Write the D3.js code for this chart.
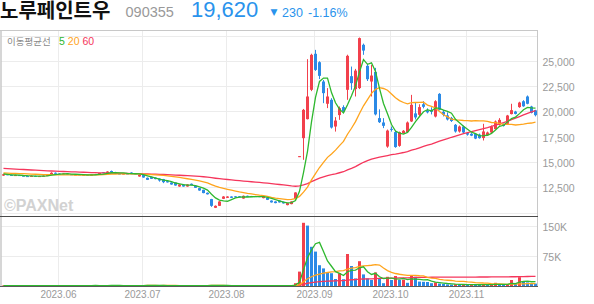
<!DOCTYPE html>
<html>
<head>
<meta charset="utf-8">
<script src="https://cdn.jsdelivr.net/npm/d3@7"></script>
<style>
  body { margin: 0; background: #fff; }
  svg { display: block; font-family: "Liberation Sans", Arial, sans-serif; }
</style>
</head>
<body>
<div id="chart"></div>
<script>
// daily candles, 2023-05-11 .. 2023-11-24 (trading days)
var opens = [
  13650,13780,13720,13660,13700,13640,13600,13580,13620,13560,
  13600,13640,13700,13930,13850,13800,13850,13780,13720,13760,
  13700,13740,13690,13730,13800,13980,13900,14100,14000,13850,
  13800,13850,13950,13880,13560,13730,13430,13520,13450,13350,
  13300,13100,12965,12965,12570,12770,12570,12840,12640,12410,
  12240,11950,11325,10465,10660,11354,11450,11580,11600,11600,
  11380,11650,11620,11620,11620,11420,11450,11180,11090,11180,
  11060,10730,10830,11330,15500,17350,19230,22130,25690,24860,
  22950,20750,21140,18500,19630,20420,22130,23480,22200,22300,
  26580,24500,22950,23900,19330,18900,16520,18270,17950,16590,
  17850,17950,19000,19800,19660,20700,20100,20150,19490,21730,
  19950,19600,19350,18670,18010,18500,17850,17780,17780,17700,
  17360,17650,17910,18240,18670,18750,18770,19730,19980,20420,
  21000,21470,20480,20100
];
var highs = [
  13820,13800,13750,13730,13720,13680,13640,13650,13640,13620,
  13660,13720,13980,13960,13880,13870,13870,13800,13780,13780,
  13760,13760,13750,13820,13920,14000,14080,14150,14020,13880,
  13870,13880,13980,13900,13760,13750,13460,13550,13480,13380,
  13320,13130,12990,12980,12800,12790,12790,12870,12660,12430,
  12260,11980,11350,10700,11120,11620,11610,11600,11620,11620,
  11680,11670,11640,11640,11640,11640,11470,11200,11110,11200,
  11080,10950,11110,12000,15570,20240,25160,25700,26080,24950,
  23100,22300,21300,19430,20480,20600,25600,24430,24200,27300,
  26700,24700,24600,24300,20200,19330,18200,18500,18100,18000,
  18150,19000,21630,20900,20700,21000,20300,20400,21100,21800,
  20150,19900,19450,18750,18600,18600,17950,17850,17850,17800,
  18770,18000,18600,19100,19330,18800,19650,20750,20050,20950,
  21100,21570,20550,20150
];
var lows = [
  13620,13680,13640,13640,13620,13580,13560,13560,13540,13540,
  13580,13620,13680,13830,13780,13780,13760,13700,13700,13680,
  13680,13670,13670,13710,13780,13880,13880,13980,13830,13780,
  13780,13780,13860,13800,13540,13440,13210,13310,13280,13050,
  12900,12960,12750,12650,12550,12550,12550,12690,12420,12150,
  11900,11780,10560,10440,10640,11330,11430,11430,11480,11500,
  11360,11530,11540,11540,11520,11400,11230,10980,10910,10980,
  10880,10710,10810,11260,15480,15210,19200,22000,24000,23190,
  20810,20320,18300,18000,19160,19900,21140,22130,21470,22200,
  25590,23000,21470,19600,18850,18340,16400,18000,16400,16500,
  17800,17900,18950,19200,19500,20300,19800,19700,19400,20100,
  19500,19100,18950,17900,17900,17850,17600,17550,17250,17300,
  17120,17600,17850,18200,18600,18500,18700,19700,19700,20350,
  20450,20700,19800,19500
];
var closes = [
  13780,13700,13660,13700,13640,13600,13580,13620,13560,13600,
  13640,13700,13930,13850,13800,13850,13780,13720,13760,13700,
  13740,13690,13730,13800,13900,13900,14050,14000,13850,13800,
  13850,13800,13880,13820,13730,13460,13230,13330,13300,13160,
  13000,12980,12770,12670,12770,12570,12770,12710,12440,12175,
  11920,11800,10660,10660,11090,11580,11580,11450,11500,11520,
  11650,11550,11560,11560,11540,11620,11250,11000,10930,11000,
  10900,10930,11090,11980,15570,20150,21470,25590,24100,23510,
  21800,21470,18400,19090,20320,19980,25490,22790,24030,27240,
  26010,23180,23540,19700,18930,18570,18100,18170,16470,17950,
  18080,18900,20650,19400,20420,20450,19900,19950,21000,20150,
  19660,19200,19050,18010,18500,17910,17700,17600,17310,17350,
  18010,17910,18500,19000,19160,18550,19590,20120,19750,20870,
  20500,20750,19850,19620
];
// volume, thousands of shares
var volumes = [
  1.2,0.8,0.9,0.7,1.0,0.8,0.6,0.9,0.7,0.8,
  1.1,0.9,1.6,1.0,0.8,0.7,0.9,0.8,0.7,2.5,
  1.0,0.8,0.7,1.2,1.5,1.1,1.4,1.8,1.0,0.8,
  0.9,0.7,1.2,0.9,1.3,1.5,2.5,1.2,0.9,1.1,
  1.4,0.9,1.2,1.0,0.8,0.9,0.8,0.7,1.0,1.3,
  1.6,1.2,2.2,1.5,1.3,1.0,0.8,0.7,0.8,0.7,
  0.9,0.7,0.6,0.7,0.6,0.8,1.0,0.9,0.8,0.9,
  1.0,0.9,1.1,7,36,158,151,98,86,52,
  44,33,32,17.5,32,17,80,50,19,62,
  29,19,15,34,19,7,23,15,25,15,
  16,8,25,23,11,10.5,10,7,9,6,
  5,4,3.5,4.5,3,3.5,2.5,4,3,2.5,
  4,3,3.5,8,3,2.5,4,15,5,22,
  10,9,7,6
];
// history before the window, only used for the moving averages
var priorCloses = [
  15150,15100,15050,15100,15000,14950,15000,14900,14950,14850,
  14900,14800,14850,14750,14800,14700,14750,14650,14700,14600,
  14650,14550,14600,14500,14550,14450,14500,14400,14450,14350,
  14400,14300,14350,14250,14200,
  14050,14000,13950,14000,13900,13950,14000,13950,13900,13950,
  14000,13950,13900,13850,13900,13950,14000,13950,13900,13950,
  13900,13850,13800,13700
];
var priorVolumes = [
  1.0,0.9,1.2,0.8,1.1,0.9,1.0,1.3,0.8,0.9,
  1.1,1.0,0.7,0.9,1.2,1.0,0.8,1.1,0.9,1.0,
  1.2,0.9,0.8,1.0,1.1,0.9,1.3,1.0,0.8,0.9,
  1.0,1.1,0.9,0.8,1.2,1.0,0.9,1.1,0.8,1.0,
  0.9,1.2,1.0,0.8,0.9,1.1,1.0,0.9,1.3,1.0,
  0.8,1.0,0.9,1.1,1.0,0.8,0.9,1.0,1.2
];
var maPeriods = [5, 20, 60];
var maColors = ["#2eb82e", "#ffa41c", "#f5365c"];
var monthIndex = [14, 35, 56, 78, 97, 116];
var monthLabels = ["2023.06", "2023.07", "2023.08", "2023.09", "2023.10", "2023.11"];
var priceGrid = [10000, 12500, 15000, 17500, 20000, 22500, 25000, 27500];
var priceTicks = [12500, 15000, 17500, 20000, 22500, 25000];
var volumeTicks = [75, 150];

var UP = "#f2404c", DOWN = "#2b8ae6";
var n = closes.length;

var svg = d3.select("#chart").append("svg").attr("width", 594).attr("height", 304);

var x = d3.scaleBand().domain(d3.range(n)).range([1.5, 537.5]).paddingInner(0.25).paddingOuter(0.125);
var y = d3.scaleLinear().domain([10000, 27500]).range([212.5, 35.5]);
var yv = d3.scaleLinear().domain([0, 150]).range([286, 226]);
function cx(i) { return x(i) + x.bandwidth() / 2; }

function movingAvg(prior, values, period) {
  var all = prior.concat(values);
  var off = prior.length;
  return d3.range(n).map(function(i) {
    return d3.mean(all.slice(off + i - period + 1, off + i + 1));
  });
}

// header
svg.append("text").attr("x", 0).attr("y", 17.5)
  .style("font-family", '"Noto Sans CJK KR", sans-serif').style("font-weight", "bold")
  .style("font-size", "20px").attr("fill", "#111").text("노루페인트우");
svg.append("text").attr("x", 125.5).attr("y", 16.5).style("font-size", "14.5px")
  .attr("fill", "#999").text("090355");
svg.append("text").attr("x", 191).attr("y", 17).style("font-size", "22px")
  .attr("fill", "#2a93ec").text("19,620");
svg.append("text").attr("x", 270.5).attr("y", 15).style("font-size", "9px")
  .style("font-family", '"DejaVu Sans", sans-serif').attr("fill", "#2a93ec").text("▼");
svg.append("text").attr("x", 282).attr("y", 17).style("font-size", "12.5px")
  .attr("fill", "#2a93ec").text("230");
svg.append("text").attr("x", 308).attr("y", 17).style("font-size", "12.5px")
  .attr("fill", "#2a93ec").text("-1.16%");

// grid
var grid = svg.append("g").attr("stroke", "#ececec").attr("stroke-width", 1);
grid.selectAll("line.h").data(priceGrid).enter().append("line")
  .attr("x1", 1).attr("x2", 537)
  .attr("y1", function(d) { return Math.round(y(d)) + 0.5; })
  .attr("y2", function(d) { return Math.round(y(d)) + 0.5; });
grid.selectAll("line.vh").data(volumeTicks).enter().append("line")
  .attr("x1", 1).attr("x2", 537)
  .attr("y1", function(d) { return yv(d) + 0.5; })
  .attr("y2", function(d) { return yv(d) + 0.5; });
grid.selectAll("line.v").data(monthIndex).enter().append("line")
  .attr("x1", function(d) { return Math.floor(cx(d)) - 0.5; })
  .attr("x2", function(d) { return Math.floor(cx(d)) - 0.5; })
  .attr("y1", 31).attr("y2", 286);

// watermark
svg.append("text").attr("x", 4).attr("y", 211).style("font-size", "16px")
  .style("font-weight", "bold").attr("fill", "#d2d2d2").text("©PAXNet");

// legend
svg.append("text").attr("x", 7).attr("y", 44.5)
  .style("font-family", '"Noto Sans CJK KR", sans-serif').style("font-size", "9.5px")
  .attr("fill", "#8a8a8a").text("이동평균선");
var legend = svg.append("text").attr("x", 59).attr("y", 44.5).style("font-size", "10.5px");
maPeriods.forEach(function(p, k) {
  legend.append("tspan").attr("fill", maColors[k]).attr("dx", k ? 3 : 0).text(p);
});

// candles
var candles = svg.append("g").selectAll("g").data(d3.range(n)).enter().append("g")
  .attr("fill", function(i) { return closes[i] >= opens[i] ? UP : DOWN; })
  .attr("stroke", function(i) { return closes[i] >= opens[i] ? UP : DOWN; });
candles.append("line")
  .attr("x1", cx).attr("x2", cx)
  .attr("y1", function(i) { return y(highs[i]); })
  .attr("y2", function(i) { return y(lows[i]); });
candles.append("rect")
  .attr("stroke", "none")
  .attr("x", function(i) { return x(i); })
  .attr("width", x.bandwidth())
  .attr("y", function(i) { return y(Math.max(opens[i], closes[i])); })
  .attr("height", function(i) {
    return Math.max(1, y(Math.min(opens[i], closes[i])) - y(Math.max(opens[i], closes[i])));
  });

// volume bars
svg.append("g").selectAll("rect").data(volumes).enter().append("rect")
  .attr("x", function(d, i) { return x(i); })
  .attr("width", x.bandwidth())
  .attr("y", function(d) { return yv(d); })
  .attr("height", function(d) { return 286 - yv(d); })
  .attr("fill", function(d, i) {
    var prev = i ? volumes[i - 1] : priorVolumes[priorVolumes.length - 1];
    return d >= prev ? UP : DOWN;
  });

// moving averages
var priceLine = d3.line().x(function(d, i) { return cx(i); }).y(function(d) { return y(d); });
var volLine = d3.line().x(function(d, i) { return cx(i); }).y(function(d) { return yv(d); });
maPeriods.slice().reverse().forEach(function(p) {
  var k = maPeriods.indexOf(p);
  svg.append("path").datum(movingAvg(priorCloses, closes, p))
    .attr("d", priceLine).attr("fill", "none")
    .attr("stroke", maColors[k]).attr("stroke-width", 1.3);
  svg.append("path").datum(movingAvg(priorVolumes, volumes, p))
    .attr("d", volLine).attr("fill", "none")
    .attr("stroke", maColors[k]).attr("stroke-width", 1.3);
});

// frame
svg.append("line").attr("x1", 0).attr("x2", 537.5).attr("y1", 30.5).attr("y2", 30.5).attr("stroke", "#c8c8c8");
svg.append("line").attr("x1", 1).attr("x2", 1).attr("y1", 30).attr("y2", 287).attr("stroke", "#c8c8c8").attr("stroke-width", 1.5);
svg.append("line").attr("x1", 537.5).attr("x2", 537.5).attr("y1", 30).attr("y2", 287).attr("stroke", "#c8c8c8");
svg.append("line").attr("x1", 0).attr("x2", 538).attr("y1", 216.5).attr("y2", 216.5).attr("stroke", "#4a4a4a");
svg.append("line").attr("x1", 0).attr("x2", 538).attr("y1", 286.5).attr("y2", 286.5).attr("stroke", "#5a5a5a");

// axis labels
svg.append("g").selectAll("text").data(priceTicks).enter().append("text")
  .attr("x", 542.5).attr("y", function(d) { return y(d) + 5; })
  .style("font-size", "10.5px").attr("fill", "#9a9a9a")
  .text(function(d) { return d3.format(",")(d); });
svg.append("g").selectAll("text").data(volumeTicks).enter().append("text")
  .attr("x", 542.5).attr("y", function(d) { return yv(d) + 5; })
  .style("font-size", "10.5px").attr("fill", "#9a9a9a")
  .text(function(d) { return d + "K"; });
svg.append("g").selectAll("text").data(monthIndex).enter().append("text")
  .attr("x", function(d) { return cx(d) - 1; }).attr("y", 297.5)
  .attr("text-anchor", "middle").style("font-size", "10px").attr("fill", "#9a9a9a")
  .text(function(d, k) { return monthLabels[k]; });
</script>
</body>
</html>
